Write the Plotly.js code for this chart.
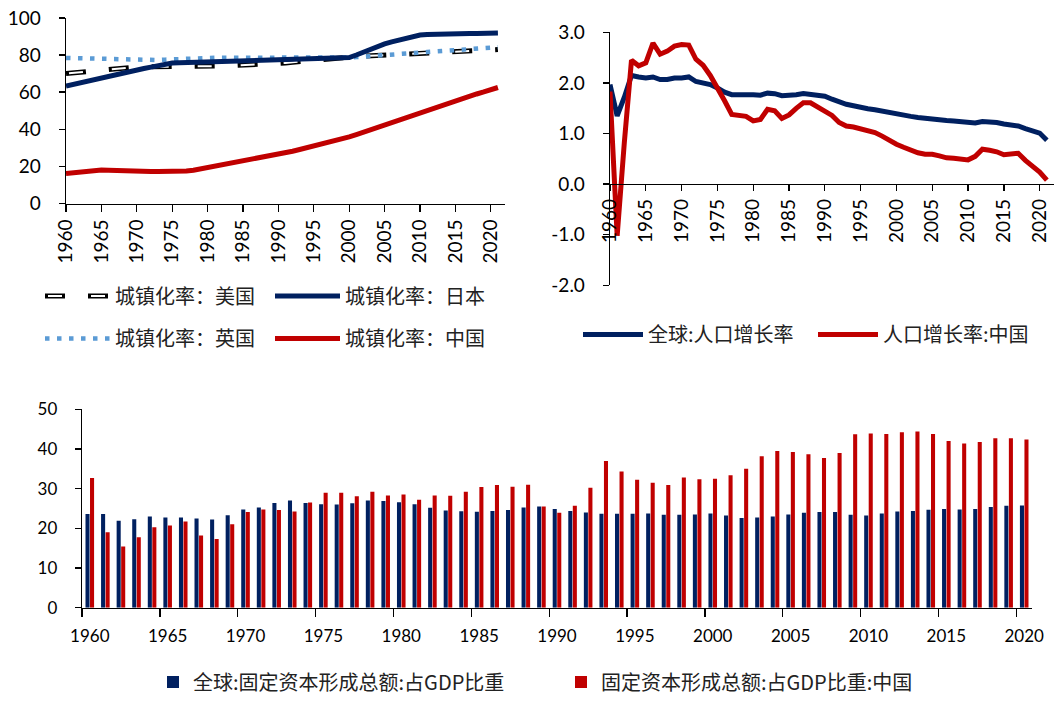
<!DOCTYPE html>
<html><head><meta charset="utf-8">
<script src="https://cdn.plot.ly/plotly-3.0.1.min.js"></script>
<style>html,body{margin:0;padding:0;background:#fff}#chart{width:1062px;height:702px}</style>
</head><body><div id="chart"></div>
<script>
// ---------- data ----------
const urbYears = [1960,1961,1962,1963,1964,1965,1966,1967,1968,1969,1970,1971,1972,1973,1974,1975,1976,1977,1978,1979,1980,1981,1982,1983,1984,1985,1986,1987,1988,1989,1990,1991,1992,1993,1994,1995,1996,1997,1998,1999,2000,2001,2002,2003,2004,2005,2006,2007,2008,2009,2010,2011,2012,2013,2014,2015,2016,2017,2018,2019,2020,2021];
const usUrban = [70.0,70.4,70.8,71.1,71.5,71.9,72.2,72.6,72.9,73.3, 73.6,73.6,73.6,73.6,73.7,73.7,73.7,73.7,73.7,73.7, 73.7,73.9,74.0,74.2,74.4,74.5,74.7,74.8,75.0,75.2, 75.3,75.7,76.1,76.5,76.9,77.3,77.6,78.0,78.4,78.8, 79.1,79.2,79.4,79.6,79.8,79.9,80.1,80.3,80.4,80.6, 80.8,81.0,81.1,81.3,81.5,81.7,81.9,82.1,82.3,82.5, 82.7,82.9];
const jpUrban = [63.3,64.2,65.2,66.1,67.0,67.9,68.7,69.5,70.3,71.1, 71.9,72.7,73.5,74.3,75.0,75.7,75.8,75.9,76.0,76.1, 76.2,76.3,76.4,76.5,76.6,76.7,76.8,76.9,77.0,77.2, 77.3,77.4,77.6,77.7,77.8,78.0,78.1,78.2,78.4,78.5, 78.6,80.0,81.6,83.2,84.6,86.0,87.1,88.2,89.1,90.0, 90.8,91.0,91.2,91.3,91.4,91.4,91.5,91.6,91.6,91.7, 91.8,91.9];
const ukUrban = [78.4,78.3,78.2,78.1,77.9,77.8,77.7,77.5,77.4,77.3, 77.1,77.1,77.2,77.3,77.5,77.7,77.8,78.0,78.2,78.4, 78.5,78.5,78.5,78.5,78.4,78.4,78.3,78.3,78.2,78.2, 78.1,78.2,78.2,78.3,78.4,78.4,78.5,78.6,78.6,78.7, 78.7,78.9,79.1,79.3,79.6,79.9,80.2,80.5,80.7,81.0, 81.3,81.6,81.8,82.1,82.3,82.6,82.8,83.1,83.4,83.7, 83.9,84.2];
const cnUrban = [16.2,16.7,17.2,17.6,18.1,18.1,17.9,17.7,17.6,17.5, 17.4,17.3,17.2,17.2,17.2,17.3,17.4,17.5,17.9,18.6, 19.4,20.1,20.9,21.6,22.2,22.9,23.5,24.2,24.9,25.6, 26.4,27.3,28.2,29.1,30.0,31.0,31.9,32.9,33.9,34.9, 35.9,37.1,38.4,39.8,41.1,42.5,43.9,45.2,46.5,47.9, 49.2,50.5,51.8,53.0,54.3,55.5,56.7,57.9,59.0,60.1, 61.4,62.5];

const popYears = urbYears;
const worldPop = [1.97,1.35,1.72,2.15,2.12,2.10,2.12,2.07,2.07,2.10, 2.10,2.12,2.03,2.00,1.97,1.90,1.82,1.77,1.76,1.77, 1.77,1.76,1.80,1.79,1.75,1.75,1.77,1.79,1.78,1.75, 1.74,1.68,1.62,1.58,1.55,1.51,1.49,1.47,1.44,1.41, 1.38,1.36,1.34,1.32,1.30,1.28,1.27,1.26,1.25,1.24, 1.23,1.21,1.24,1.24,1.22,1.19,1.17,1.15,1.10,1.05, 1.01,0.87];
const cnPop = [1.83,-1.02,0.82,2.45,2.34,2.40,2.79,2.57,2.63,2.73, 2.76,2.75,2.47,2.35,2.15,1.92,1.65,1.38,1.35,1.34, 1.25,1.28,1.48,1.45,1.30,1.37,1.50,1.61,1.61,1.52, 1.45,1.36,1.22,1.15,1.13,1.09,1.05,1.02,0.95,0.86, 0.79,0.73,0.67,0.62,0.59,0.59,0.56,0.52,0.51,0.50, 0.48,0.55,0.69,0.67,0.64,0.58,0.59,0.61,0.47,0.36, 0.24,0.08];

const gfcfYears = [1960,1961,1962,1963,1964,1965,1966,1967,1968,1969,1970,1971,1972,1973,1974,1975,1976,1977,1978,1979,1980,1981,1982,1983,1984,1985,1986,1987,1988,1989,1990,1991,1992,1993,1994,1995,1996,1997,1998,1999,2000,2001,2002,2003,2004,2005,2006,2007,2008,2009,2010,2011,2012,2013,2014,2015,2016,2017,2018,2019,2020];
const worldGFCF = [23.6,23.6,21.9,22.3,23.0,22.7,22.75,22.5,22.25,23.3, 24.75,25.25,26.4,27.0,26.4,26.1,26.0,26.3,27.0,26.9, 26.6,26.1,25.2,24.5,24.3,24.2,24.4,24.6,25.25,25.5, 24.9,24.4,24.0,23.7,23.7,23.7,23.75,23.4,23.4,23.5, 23.75,23.25,22.6,22.7,23.0,23.5,23.9,24.1,24.1,23.4, 23.25,23.75,24.25,24.4,24.7,24.9,24.75,24.9,25.4,25.7, 25.75];
const cnGFCF = [32.7,19.0,15.4,17.75,20.25,20.7,21.75,18.2,17.3,21.0, 24.1,24.75,24.6,24.25,26.5,29.0,29.0,28.1,29.25,28.25, 28.5,27.2,28.25,28.2,29.25,30.4,30.9,30.5,31.0,25.5, 23.9,25.7,30.25,37.0,34.3,32.25,31.5,30.9,32.8,32.4, 32.5,33.4,35.0,38.2,39.5,39.25,38.7,37.75,39.0,43.7, 43.9,43.8,44.2,44.4,43.8,42.0,41.4,41.75,42.7,42.7, 42.4];

const yearTicks = [1960,1965,1970,1975,1980,1985,1990,1995,2000,2005,2010,2015,2020];
const yearTickText = ['1960','1965','1970','1975','1980','1985','1990','1995','2000','2005','2010','2015','2020'];
const barTickVals = [1959.5,1964.5,1969.5,1974.5,1979.5,1984.5,1989.5,1994.5,1999.5,2004.5,2009.5,2014.5,2019.5];
const popTickVals = [-2,-1,0,1,2,3];
const popTickText = ['-2.0','-1.0','0.0','1.0','2.0','3.0'];

const names = {
  us: '城镇化率：美国', jp: '城镇化率：日本', uk: '城镇化率：英国', cn: '城镇化率：中国',
  wPop: '全球:人口增长率', cPop: '人口增长率:中国',
  wG: '全球:固定资本形成总额:占GDP比重', cG: '固定资本形成总额:占GDP比重:中国'
};

// ---------- styles ----------
const NAVY = '#002060', RED = '#C00000', LBLUE = '#5B9BD5';
const tickFontTop = {family: 'Lato, "Liberation Sans", sans-serif', size: 19, color: '#000'};
const tickFontBot = {family: 'Lato, "Liberation Sans", sans-serif', size: 17, color: '#000'};
const legFont = {family: '"Noto Sans CJK SC", sans-serif', size: 20, color: '#222'};
const axisBase = {showgrid: false, zeroline: false, showline: true, linecolor: '#000', linewidth: 1.3,
  ticks: 'outside', tickcolor: '#000', tickwidth: 1.3, fixedrange: true};
const A = o => Object.assign({}, axisBase, o);

const US_OUT = '20px,23px', US_IN = '0px,3px,14px,26px';

const traces = [
  {x: urbYears, y: usUrban, name: names.us, type: 'scatter', mode: 'lines', xaxis: 'x', yaxis: 'y',
   line: {color: '#000', width: 5, dash: US_OUT}, legend: 'legend'},
  {x: urbYears, y: usUrban, name: '', type: 'scatter', mode: 'lines', xaxis: 'x', yaxis: 'y',
   line: {color: '#fff', width: 2, dash: US_IN}, legend: 'legend9'},
  {x: urbYears, y: ukUrban, name: names.uk, type: 'scatter', mode: 'lines', xaxis: 'x', yaxis: 'y',
   line: {color: LBLUE, width: 4.5, dash: '4.5px,7.5px'}, legend: 'legend3'},
  {x: urbYears, y: cnUrban, name: names.cn, type: 'scatter', mode: 'lines', xaxis: 'x', yaxis: 'y',
   line: {color: RED, width: 5}, legend: 'legend4'},
  {x: urbYears, y: jpUrban, name: names.jp, type: 'scatter', mode: 'lines', xaxis: 'x', yaxis: 'y',
   line: {color: NAVY, width: 5}, legend: 'legend2'},

  {x: popYears, y: worldPop, name: names.wPop, type: 'scatter', mode: 'lines', xaxis: 'x2', yaxis: 'y2',
   line: {color: NAVY, width: 5}, legend: 'legend5'},
  {x: popYears, y: cnPop, name: names.cPop, type: 'scatter', mode: 'lines', xaxis: 'x2', yaxis: 'y2',
   line: {color: RED, width: 5}, legend: 'legend6'},

  {x: gfcfYears, y: worldGFCF, name: names.wG, type: 'bar', xaxis: 'x3', yaxis: 'y3',
   marker: {color: NAVY, line: {width: 0}}, legend: 'legend7'},
  {x: gfcfYears, y: cnGFCF, name: names.cG, type: 'bar', xaxis: 'x3', yaxis: 'y3',
   marker: {color: RED, line: {width: 0}}, legend: 'legend8'},
  // carrier for the label axis of the bar chart (draws nothing)
  {x: gfcfYears, y: worldGFCF, type: 'scatter', mode: 'none', xaxis: 'x4', yaxis: 'y3',
   showlegend: false, hoverinfo: 'skip'}
];

function leg(x, y, iw) {
  return {x: x, y: y, xanchor: 'left', yanchor: 'middle', orientation: 'h', font: legFont,
    bgcolor: 'rgba(0,0,0,0)', borderwidth: 0, itemwidth: iw, itemclick: false, itemdoubleclick: false};
}
const W = 1062, H = 702;
const px = v => v / W, py = v => 1 - v / H;

const layout = {
  width: W, height: H, margin: {l: 0, r: 0, t: 0, b: 0},
  paper_bgcolor: '#fff', plot_bgcolor: 'rgba(0,0,0,0)', showlegend: true,
  barmode: 'group', bargap: 0.42, bargroupgap: 0.1,
  xaxis: A({domain: [px(66), px(505)], range: [1960, 2022], anchor: 'y', tickfont: tickFontTop,
    tickvals: yearTicks, ticktext: yearTickText, tickangle: -90, ticklen: 7}),
  yaxis: A({domain: [py(205), py(18)], range: [0, 100], anchor: 'x', tickfont: tickFontTop,
    tickvals: [0,20,40,60,80,100], ticklen: 6, ticklabelstandoff: 14}),
  xaxis2: A({domain: [px(610), px(1054)], range: [1960, 2022], anchor: 'free', tickfont: tickFontTop,
    position: py(185.4), tickvals: yearTicks, ticktext: yearTickText, tickangle: -90, ticklen: 6}),
  yaxis2: A({domain: [py(287.3), py(32.7)], range: [-2, 3], anchor: 'x2', tickfont: tickFontTop,
    tickvals: popTickVals, ticktext: popTickText, ticklen: 6, ticklabelstandoff: 14}),
  xaxis3: A({domain: [px(82), px(1032)], range: [1959.5, 2020.5], anchor: 'y3',
    tickvals: barTickVals, showticklabels: false, ticklen: 8}),
  xaxis4: {domain: [px(82), px(1032)], range: [1959.5, 2020.5], anchor: 'y3', overlaying: 'x3',
    showgrid: false, zeroline: false, showline: false, ticks: '', fixedrange: true,
    tickvals: yearTicks, ticktext: yearTickText, tickangle: 0, tickfont: tickFontBot, ticklabelstandoff: 16},
  yaxis3: A({domain: [py(612), py(412.3)], range: [0, 50], anchor: 'x3', tickfont: tickFontBot,
    tickvals: [0,10,20,30,40,50], ticklen: 6, ticklabelstandoff: 14}),
  legend: leg(px(40), py(298), 65),
  legend9: leg(px(40), py(298), 65),
  legend2: leg(px(270), py(298), 65),
  legend3: leg(px(40), py(341), 65),
  legend4: leg(px(270), py(341), 65),
  legend5: leg(px(578), py(337), 60),
  legend6: leg(px(813), py(337), 60),
  legend7: leg(px(153), py(687), 30),
  legend8: leg(px(561), py(687), 30)
};

Plotly.newPlot('chart', traces, layout, {displayModeBar: false, staticPlot: true});
</script>
</body></html>
